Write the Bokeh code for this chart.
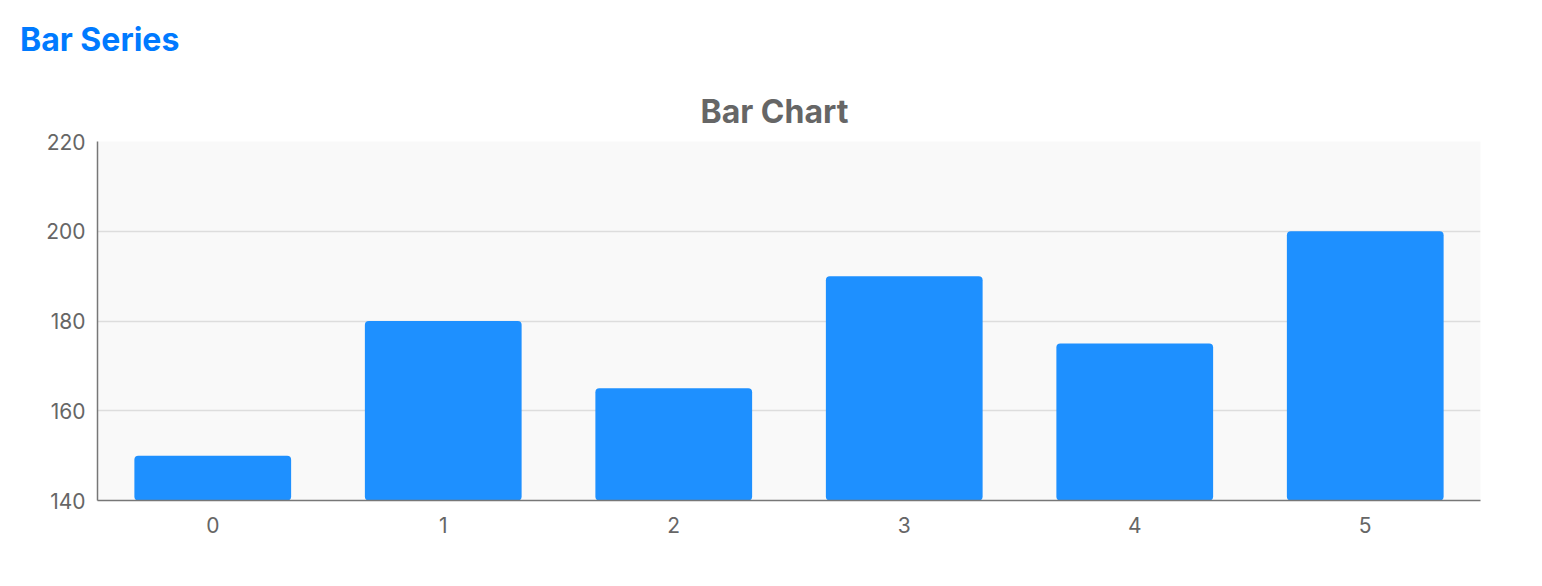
from bokeh.plotting import figure
from bokeh.models import Div, Range1d, FixedTicker, ColumnDataSource
from bokeh.layouts import column
from bokeh.embed import file_html
from bokeh.resources import INLINE

categories = [0, 1, 2, 3, 4, 5]
values = [150, 180, 165, 190, 175, 200]
y_ticks = [140, 160, 180, 200, 220]

FONT = "Inter"

heading = Div(
    text='<div style="font-family:Inter;font-size:32px;font-weight:bold;color:#007AFF;'
         'line-height:38px;padding-top:21px;padding-left:20px;">Bar Series</div>',
    width=600, height=72, margin=(0, 0, 0, 0),
)

p = figure(
    width=1534, height=506, frame_width=1383, frame_height=359,
    output_backend="svg", toolbar_location=None,
    x_range=Range1d(-0.5, 5.5), y_range=Range1d(140, 220),
    min_border_left=97, min_border_top=69, min_border_right=54,
    title="Bar Chart",
)
p.margin = (0, 0, 0, 0)

src = ColumnDataSource(dict(x=categories, top=values))
p.vbar(x="x", top="top", bottom=140, width=0.68, source=src,
       fill_color="#1E90FF", line_color=None, border_radius=4)

p.title.align = "left"
p.title.offset = 603
p.title.standoff = 21
p.title.text_font = FONT
p.title.text_font_size = "32px"
p.title.text_font_style = "bold"
p.title.text_color = "#666666"

p.background_fill_color = "#f9f9f9"
p.border_fill_color = "white"
p.outline_line_color = None

p.xgrid.grid_line_color = None
p.ygrid.grid_line_color = "#dddddd"
p.ygrid.grid_line_width = 1.5

p.xaxis.ticker = FixedTicker(ticks=categories)
p.yaxis.ticker = FixedTicker(ticks=y_ticks)
for ax in (p.xaxis, p.yaxis):
    ax.axis_line_color = "#777777"
    ax.axis_line_width = 1.5
    ax.major_tick_line_color = None
    ax.minor_tick_line_color = None
    ax.major_label_text_font = FONT
    ax.major_label_text_font_size = "21px"
    ax.major_label_text_color = "#666666"
p.yaxis.major_label_standoff = 6
p.xaxis.major_label_standoff = 10

layout = column(heading, p, margin=(0, 0, 0, 0))
open("out.html", "w").write(file_html(layout, INLINE))
